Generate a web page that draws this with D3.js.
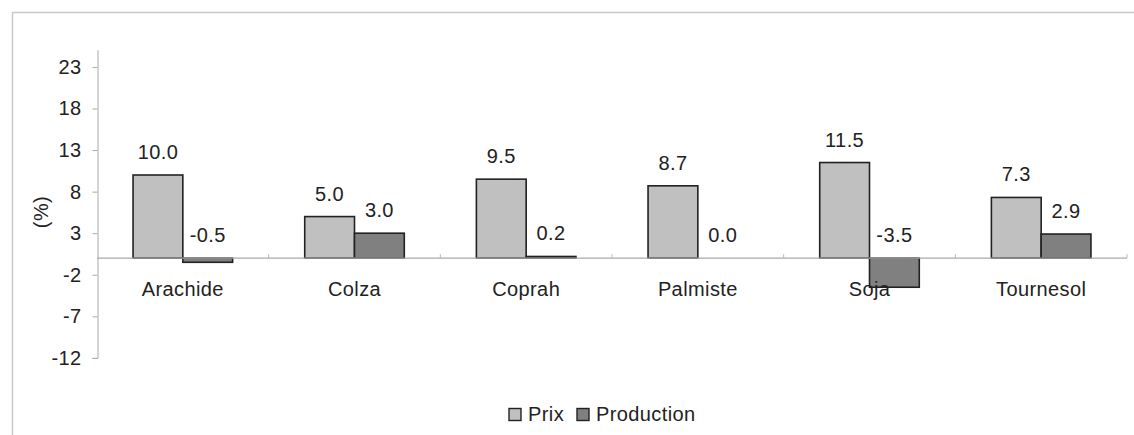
<!DOCTYPE html>
<html><head><meta charset="utf-8">
<script src="https://cdn.jsdelivr.net/npm/d3@7"></script>
<style>
body{margin:0;background:#fff;}
text{font-family:"Liberation Sans",Arial,sans-serif;fill:#222;letter-spacing:0.4px;}
</style></head>
<body><svg id="c" width="1134" height="435"></svg>
<script>
const categories = ["Arachide","Colza","Coprah","Palmiste","Soja","Tournesol"];
const prix = [10.0, 5.0, 9.5, 8.7, 11.5, 7.3];
const production = [-0.5, 3.0, 0.2, 0.0, -3.5, 2.9];
const seriesNames = ["Prix","Production"];
const seriesColors = ["#c0c0c0","#808080"];
const yTicks = [-12,-7,-2,3,8,13,18,23];

const svg = d3.select("#c");
const fs = 20;

// outer frame (only top & left visible)
svg.append("rect").attr("x",12.5).attr("y",12.5).attr("width",1200).attr("height",500)
  .attr("fill","none").attr("stroke","#c8c8c8").attr("stroke-width",1.5);

const y = d3.scaleLinear().domain([-12,25]).range([357.9,50.3]);
const x = d3.scaleBand().domain(categories).range([97,1127]).padding(0);
const sub = d3.scaleBand().domain(seriesNames).range([x.bandwidth()*0.21, x.bandwidth()*0.79]).padding(0);

// y axis
const yAxis = d3.axisLeft(y).tickValues(yTicks).tickSize(5).tickPadding(11).tickFormat(d => String(d));
const gy = svg.append("g").attr("transform","translate(97.5,0)").call(yAxis);
gy.select(".domain").attr("stroke","#aaa").attr("d",`M-5,${y(-12)+0.5}H0.5V${y(25)}`);
gy.selectAll(".tick line").attr("stroke","#aaa");
gy.selectAll(".tick text").attr("font-size",fs).style("fill","#222").attr("font-family","Liberation Sans, Arial, sans-serif");

// y label
svg.append("text").attr("transform","translate(48,212) rotate(-90)").attr("text-anchor","middle")
  .attr("font-size",fs).text("(%)");

// bars
const data = categories.map((c,i)=>({c, vals:[prix[i],production[i]]}));
const g = svg.append("g");
data.forEach(d=>{
  d.vals.forEach((v,j)=>{
    const bx = x(d.c)+sub(seriesNames[j]);
    const bw = sub.bandwidth();
    g.append("rect").attr("x",bx).attr("width",bw)
      .attr("y",y(Math.max(v,0))).attr("height",Math.max(Math.abs(y(v)-y(0)),0))
      .attr("fill",seriesColors[j]).attr("stroke","#222").attr("stroke-width",1.6);
  });
});

// x axis (zero line)
const gx = svg.append("g").attr("transform",`translate(0,${y(0)})`);
gx.append("line").attr("x1",97).attr("x2",1127).attr("stroke","#aaa").attr("stroke-width",1.2);
categories.forEach((c,i)=>{
  if(i>0) gx.append("line").attr("x1",x(c)).attr("x2",x(c)).attr("y1",-4).attr("y2",0).attr("stroke","#bbb");
});
gx.append("line").attr("x1",1127).attr("x2",1127).attr("y1",-4).attr("y2",0).attr("stroke","#bbb");

// bar labels
data.forEach(d=>{
  d.vals.forEach((v,j)=>{
    const cx = x(d.c)+sub(seriesNames[j])+sub.bandwidth()/2;
    svg.append("text").attr("x",cx).attr("y",y(Math.max(v,0))-16).attr("text-anchor","middle")
      .attr("font-size",fs).text(v.toFixed(1));
  });
});

// category labels
categories.forEach(c=>{
  svg.append("text").attr("x",x(c)+x.bandwidth()/2).attr("y",296).attr("text-anchor","middle")
    .attr("font-size",fs).text(c);
});

// legend
const leg = svg.append("g");
const legX = [509,577];
seriesNames.forEach((s,j)=>{
  leg.append("rect").attr("x",legX[j]).attr("y",408.5).attr("width",12).attr("height",12)
    .attr("fill",seriesColors[j]).attr("stroke","#222").attr("stroke-width",1.4);
  leg.append("text").attr("x",legX[j]+19).attr("y",421).attr("font-size",fs).text(s);
});
</script></body></html>
